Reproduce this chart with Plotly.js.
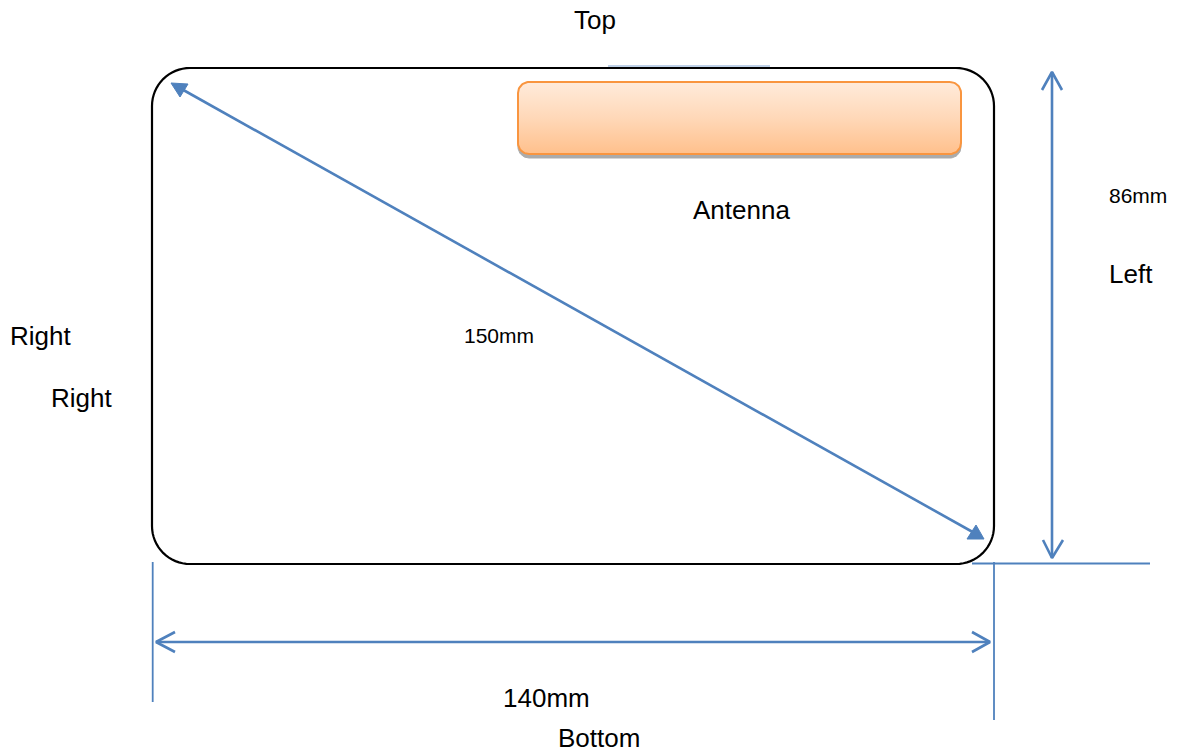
<!DOCTYPE html>
<html>
<head>
<meta charset="utf-8">
<script src="https://cdn.plot.ly/plotly-3.0.1.min.js"></script>
<style>html,body{margin:0;padding:0;background:#fff;overflow:hidden}#chart{width:1182px;height:754px}</style>
</head>
<body>
<div id="chart"></div>
<script>
// Labels
const labelTexts = ["Top", "Antenna", "86mm", "Left", "Right", "Right", "150mm", "140mm", "Bottom"];
const labelX = [595, 741.5, 1138, 1131, 40, 81, 498.5, 546, 599];
const labelY = [20, 210, 195, 274, 336, 398, 335, 698, 738];
const labelSizes = [26, 26, 21, 26, 26, 26, 21, 26, 26];

// Outlines: [left, right, top, bottom, corner radius]
const cardBox = [152, 994, 68, 564, 38];
const antennaBox = [518, 961, 82, 154, 11];
const antennaShadowBox = [518, 961, 86, 158, 11];

// Blue measure lines
const diagonalX = [178, 978];
const diagonalY = [87, 535];
const heightArrowX = [1052, 1052];
const heightArrowY = [72, 558];
const widthArrowX = [156, 990];
const widthArrowY = [642, 642];
const baseRightX = [972, 1150];
const baseRightY = [563.5, 563.5];
const extRightX = [994, 994];
const extRightY = [562, 720];
const extLeftX = [152.7, 152.7];
const extLeftY = [562, 702];
const topMarkX = [608, 770];
const topMarkY = [66, 66];

// Arrow heads
const headTopX = [1042, 1052, 1062];
const headTopY = [90, 72, 90];
const headBottomX = [1043, 1052, 1063];
const headBottomY = [540, 558, 540];
const headLeftX = [175, 156, 175];
const headLeftY = [632, 642, 652];
const headRightX = [972, 990, 972];
const headRightY = [632, 642, 652];
const triStartX = [171, 188, 180, 171];
const triStartY = [83, 84, 97, 83];
const triEndX = [984, 967, 976, 984];
const triEndY = [539, 539, 525, 539];

const BLUE = "#4F81BD";

function roundedOutline(b) {
  const [l, r, t, bt, rad] = b, xs = [], ys = [];
  const corners = [[r - rad, t + rad, -90], [r - rad, bt - rad, 0], [l + rad, bt - rad, 90], [l + rad, t + rad, 180]];
  corners.forEach(c => {
    for (let i = 0; i <= 16; i++) {
      const a = (c[2] + i * 90 / 16) * Math.PI / 180;
      xs.push(c[0] + rad * Math.cos(a));
      ys.push(c[1] + rad * Math.sin(a));
    }
  });
  xs.push(xs[0]); ys.push(ys[0]);
  return {x: xs, y: ys};
}
function line(x, y, w, color) {
  return {type: "scatter", mode: "lines", x, y, hoverinfo: "skip", showlegend: false,
          line: {color: color || BLUE, width: w || 2.6, simplify: false}};
}
function tri(x, y) {
  return {type: "scatter", mode: "lines", x, y, fill: "toself", fillcolor: BLUE, hoverinfo: "skip",
          showlegend: false, line: {color: BLUE, width: 1}};
}

const card = roundedOutline(cardBox), ant = roundedOutline(antennaBox), shadow = roundedOutline(antennaShadowBox);
const traces = [
  line(topMarkX, topMarkY, 1, "#7FA3D0"),
  line(card.x, card.y, 2.2, "#000000"),
  {type: "scatter", mode: "lines", x: shadow.x, y: shadow.y, fill: "toself", fillcolor: "#ABABAB",
   line: {color: "#ABABAB", width: 1}, hoverinfo: "skip", showlegend: false},
  {type: "scatter", mode: "lines", x: ant.x, y: ant.y, fill: "toself",
   fillgradient: {type: "vertical", colorscale: [[0, "#FFC08C"], [0.5, "#FFD8B8"], [1, "#FFEBDB"]]},
   line: {color: "#F9953F", width: 2}, hoverinfo: "skip", showlegend: false},
  line(diagonalX, diagonalY), tri(triStartX, triStartY), tri(triEndX, triEndY),
  line(heightArrowX, heightArrowY), line(headTopX, headTopY), line(headBottomX, headBottomY),
  line(widthArrowX, widthArrowY), line(headLeftX, headLeftY), line(headRightX, headRightY),
  line(baseRightX, baseRightY, 1.8), line(extRightX, extRightY, 1.8), line(extLeftX, extLeftY, 1.8)
];

const hiddenAxis = {visible: false, showgrid: false, zeroline: false, fixedrange: true};
const layout = {
  width: 1182, height: 754, margin: {l: 0, r: 0, t: 0, b: 0},
  paper_bgcolor: "#ffffff", plot_bgcolor: "#ffffff", showlegend: false,
  xaxis: Object.assign({range: [0, 1182]}, hiddenAxis),
  yaxis: Object.assign({range: [754, 0]}, hiddenAxis),
  annotations: labelTexts.map((t, i) => ({
    text: t, x: labelX[i], y: labelY[i], xref: "x", yref: "y", showarrow: false,
    xanchor: "center", yanchor: "middle",
    font: {family: "Liberation Sans, Arial, sans-serif", size: labelSizes[i], color: "#000000"}
  }))
};
Plotly.newPlot("chart", traces, layout, {displayModeBar: false, staticPlot: true});
</script>
</body>
</html>
